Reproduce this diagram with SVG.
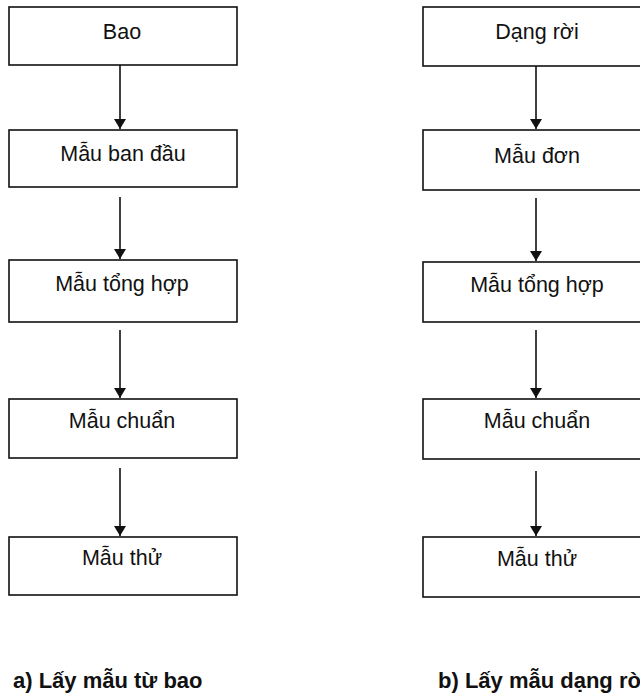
<svg xmlns="http://www.w3.org/2000/svg" width="640" height="698" viewBox="0 0 640 698">
<defs>
<style>
.box{fill:#fff;stroke:#111;stroke-width:1.6}
.lbl{font-family:"Liberation Sans",Arial,sans-serif;font-size:21.5px;fill:#111;text-anchor:middle}
.cap{font-family:"Liberation Sans",Arial,sans-serif;font-size:22px;font-weight:bold;fill:#111}
.conn{stroke:#111;stroke-width:1.6;fill:none;marker-end:url(#ah)}
</style>
<marker id="ah" viewBox="0 0 10 12" refX="10" refY="6" markerWidth="10" markerHeight="12" markerUnits="userSpaceOnUse" orient="auto">
<path d="M0,0 L10,6 L0,12 Z" fill="#111"/>
</marker>
</defs>
<rect width="640" height="698" fill="#fff"/>
<g id="a1"><rect class="box" x="9" y="7" width="228" height="58"/><text class="lbl" x="122" y="39">Bao</text></g>
<g id="a2"><rect class="box" x="9" y="130" width="228" height="57"/><text class="lbl" x="123" y="161">Mẫu ban đầu</text></g>
<g id="a3"><rect class="box" x="9" y="260" width="228" height="62"/><text class="lbl" x="122" y="291">Mẫu tổng hợp</text></g>
<g id="a4"><rect class="box" x="9" y="399" width="228" height="59"/><text class="lbl" x="122" y="428">Mẫu chuẩn</text></g>
<g id="a5"><rect class="box" x="9" y="537" width="228" height="58"/><text class="lbl" x="122" y="565">Mẫu thử</text></g>
<g id="b1"><rect class="box" x="423" y="7" width="228" height="59"/><text class="lbl" x="537" y="39">Dạng rời</text></g>
<g id="b2"><rect class="box" x="423" y="130" width="228" height="60"/><text class="lbl" x="537" y="163">Mẫu đơn</text></g>
<g id="b3"><rect class="box" x="423" y="262" width="228" height="60"/><text class="lbl" x="537" y="292">Mẫu tổng hợp</text></g>
<g id="b4"><rect class="box" x="423" y="399" width="228" height="60"/><text class="lbl" x="537" y="428">Mẫu chuẩn</text></g>
<g id="b5"><rect class="box" x="423" y="537" width="228" height="60"/><text class="lbl" x="537" y="566">Mẫu thử</text></g>
<g id="connectors">
<line class="conn" x1="120" y1="65" x2="120" y2="129"/>
<line class="conn" x1="120" y1="197" x2="120" y2="259"/>
<line class="conn" x1="120" y1="330" x2="120" y2="398"/>
<line class="conn" x1="120" y1="468" x2="120" y2="536"/>
<line class="conn" x1="536" y1="66" x2="536" y2="129"/>
<line class="conn" x1="536" y1="198" x2="536" y2="261"/>
<line class="conn" x1="536" y1="330" x2="536" y2="398"/>
<line class="conn" x1="536" y1="471" x2="536" y2="536"/>
</g>
<g id="captions">
<text class="cap" x="13" y="688">a) Lấy mẫu từ bao</text>
<text class="cap" x="438" y="688">b) Lấy mẫu dạng rời</text>
</g>
</svg>
